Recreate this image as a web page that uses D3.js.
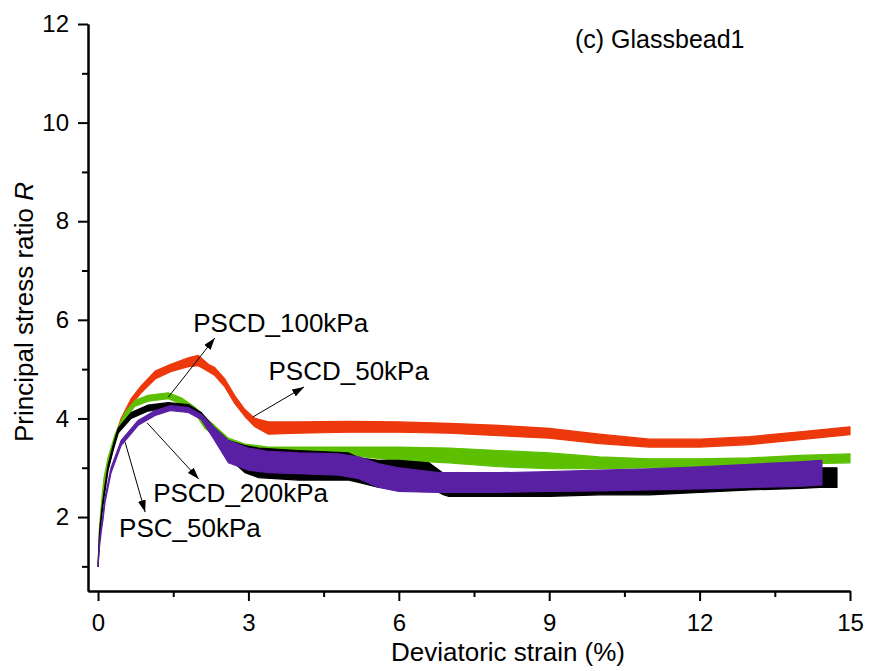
<!DOCTYPE html>
<html>
<head>
<meta charset="utf-8">
<script src="https://cdn.jsdelivr.net/npm/d3@7"></script>
<style>
  body { margin: 0; background: #fff; }
  svg { font-family: "Liberation Sans", Arial, sans-serif; }
  .axis path, .axis line { stroke: #000; stroke-width: 2; }
  .axis text { font-size: 24px; fill: #000; font-family: "Liberation Sans", Arial, sans-serif; }
</style>
</head>
<body>
<svg id="chart" width="869" height="671"></svg>
<script>
// strain (%) with lower / upper envelope of the noisy R trace
var psc100Strain = [0, 0.03, 0.07, 0.12, 0.2, 0.3, 0.46, 0.66, 0.86, 1.14, 1.45, 1.8, 2.0, 2.2, 2.33, 2.53, 2.73, 2.93, 3.13, 3.4, 4, 5, 6, 7, 8, 9, 10, 11, 12, 13, 14, 15];
var psc100Lo = [1.0, 1.55, 2.05, 2.55, 2.95, 3.4, 3.9, 4.27, 4.52, 4.8, 4.95, 5.05, 5.07, 4.95, 4.87, 4.64, 4.3, 4.04, 3.83, 3.68, 3.7, 3.72, 3.72, 3.7, 3.65, 3.6, 3.49, 3.42, 3.42, 3.47, 3.57, 3.67];
var psc100Hi = [1.0, 1.65, 2.15, 2.65, 3.05, 3.5, 4.0, 4.4, 4.66, 4.96, 5.1, 5.23, 5.28, 5.1, 5.03, 4.8, 4.46, 4.18, 4.0, 3.93, 3.93, 3.94, 3.93, 3.9, 3.86, 3.8, 3.68, 3.58, 3.58, 3.63, 3.73, 3.83];

var pscd50Strain = [0, 0.03, 0.07, 0.12, 0.2, 0.34, 0.54, 0.74, 1.0, 1.4, 1.66, 1.94, 2.13, 2.33, 2.6, 2.93, 3.4, 4, 5, 6, 7, 8, 9, 10, 11, 12, 13, 14, 15];
var pscd50Lo = [1.0, 1.7, 2.2, 2.7, 3.1, 3.55, 4.0, 4.25, 4.35, 4.4, 4.3, 4.1, 3.8, 3.65, 3.45, 3.35, 3.3, 3.28, 3.25, 3.15, 3.1, 3.02, 2.98, 2.98, 3.0, 3.02, 3.05, 3.08, 3.1];
var pscd50Hi = [1.0, 1.8, 2.3, 2.8, 3.2, 3.68, 4.12, 4.37, 4.47, 4.52, 4.42, 4.22, 4.02, 3.85, 3.6, 3.48, 3.42, 3.42, 3.42, 3.42, 3.4, 3.35, 3.3, 3.22, 3.18, 3.18, 3.2, 3.25, 3.28];

var pscd200Strain = [0, 0.03, 0.07, 0.12, 0.2, 0.3, 0.4, 0.66, 1.0, 1.4, 1.8, 2.06, 2.33, 2.6, 2.93, 3.2, 4, 5, 5.2, 5.6, 6.0, 6.6, 6.9, 7, 8, 9, 10, 11, 12, 13, 14, 14.4, 14.74];
var pscd200Lo = [1.0, 1.6, 2.0, 2.4, 2.95, 3.35, 3.7, 4.0, 4.15, 4.22, 4.18, 4.0, 3.6, 3.2, 2.9, 2.8, 2.75, 2.75, 2.7, 2.6, 2.6, 2.6, 2.45, 2.42, 2.42, 2.42, 2.45, 2.45, 2.5, 2.55, 2.58, 2.6, 2.6];
var pscd200Hi = [1.0, 1.7, 2.1, 2.5, 3.05, 3.45, 3.8, 4.12, 4.27, 4.32, 4.28, 4.12, 3.8, 3.55, 3.45, 3.4, 3.35, 3.3, 3.2, 3.15, 3.15, 3.1, 2.88, 2.85, 2.88, 2.9, 2.92, 2.95, 3.0, 3.05, 3.1, 3.0, 3.0];

var psc50Strain = [0, 0.03, 0.07, 0.1, 0.14, 0.26, 0.46, 0.8, 1.14, 1.45, 1.8, 2.06, 2.33, 2.6, 3.0, 3.4, 4, 4.8, 5.2, 5.6, 6, 6.8, 7, 8, 9, 10, 11, 12, 13, 14, 14.44];
var psc50Lo = [1.0, 1.4, 1.75, 1.95, 2.3, 2.9, 3.45, 3.86, 4.06, 4.16, 4.12, 3.98, 3.55, 3.1, 2.95, 2.9, 2.88, 2.85, 2.78, 2.6, 2.52, 2.5, 2.5, 2.5, 2.52, 2.53, 2.55, 2.57, 2.6, 2.62, 2.65];
var psc50Hi = [1.0, 1.5, 1.85, 2.05, 2.4, 3.0, 3.55, 3.96, 4.16, 4.26, 4.22, 4.08, 3.8, 3.55, 3.4, 3.33, 3.3, 3.28, 3.22, 3.08, 3.0, 2.9, 2.9, 2.9, 2.92, 2.95, 2.98, 3.02, 3.07, 3.12, 3.15];

var xMajor = [0, 3, 6, 9, 12, 15];
var xMinor = [1.5, 4.5, 7.5, 10.5, 13.5];
var yMajor = [2, 4, 6, 8, 10, 12];
var yMinor = [1, 3, 5, 7, 9, 11];

// label text, anchor point [strain, R], arrow tail and head [strain, R]
var labelNames = ["PSCD_100kPa", "PSCD_50kPa", "PSCD_200kPa", "PSC_50kPa"];
var labelPos = [[1.9, 5.75], [3.4, 4.77], [1.1, 2.3], [0.42, 1.6]];
var arrowFrom = [[1.40, 4.43], [3.09, 4.03], [0.98, 3.91], [0.54, 3.52]];
var arrowTo = [[2.33, 5.63], [4.11, 4.64], [2.01, 2.77], [0.94, 2.10]];

var svg = d3.select("#chart");

var x = d3.scaleLinear().domain([-0.2, 15]).range([88, 850]);
var y = d3.scaleLinear().domain([0.5, 12]).range([591, 24]);

var series = [
    { strain: psc100Strain, lo: psc100Lo, hi: psc100Hi, color: "#ec380b" },
    { strain: pscd50Strain, lo: pscd50Lo, hi: pscd50Hi, color: "#5cbf00" },
    { strain: pscd200Strain, lo: pscd200Lo, hi: pscd200Hi, color: "#000000" },
    { strain: psc50Strain, lo: psc50Lo, hi: psc50Hi, color: "#5a20a3" }
];

var area = d3.area()
    .x(function (d) { return x(d.s); })
    .y0(function (d) { return y(d.lo); })
    .y1(function (d) { return y(d.hi); });

series.forEach(function (s) {
    var pts = s.strain.map(function (v, i) { return { s: v, lo: s.lo[i], hi: s.hi[i] }; });
    svg.append("path")
        .datum(pts)
        .attr("d", area)
        .attr("fill", s.color)
        .attr("stroke", s.color)
        .attr("stroke-width", 1.2)
        .attr("stroke-linejoin", "round");
});

// axes
svg.append("g")
    .attr("class", "axis")
    .attr("transform", "translate(0," + y(0.5) + ")")
    .call(d3.axisBottom(x).tickValues(xMinor).tickSize(6).tickFormat("").tickSizeOuter(0));
svg.append("g")
    .attr("class", "axis")
    .attr("transform", "translate(0," + y(0.5) + ")")
    .call(d3.axisBottom(x).tickValues(xMajor).tickSize(10).tickPadding(13).tickSizeOuter(0));

svg.append("g")
    .attr("class", "axis")
    .attr("transform", "translate(" + x(-0.2) + ",0)")
    .call(d3.axisLeft(y).tickValues(yMinor).tickSize(6).tickFormat("").tickSizeOuter(0));
svg.append("g")
    .attr("class", "axis")
    .attr("transform", "translate(" + x(-0.2) + ",0)")
    .call(d3.axisLeft(y).tickValues(yMajor).tickSize(10).tickPadding(9).tickSizeOuter(0));

// axis titles
svg.append("text")
    .attr("x", 508)
    .attr("y", 661)
    .attr("text-anchor", "middle")
    .attr("font-size", 26)
    .text("Deviatoric strain (%)");

var yt = svg.append("text")
    .attr("transform", "translate(33,312) rotate(-90)")
    .attr("text-anchor", "middle")
    .attr("font-size", 26);
yt.append("tspan").text("Principal stress ratio ");
yt.append("tspan").attr("font-style", "italic").text("R");

svg.append("text")
    .attr("x", 575)
    .attr("y", 48)
    .attr("font-size", 25)
    .text("(c) Glassbead1");

// annotations
svg.append("defs").append("marker")
    .attr("id", "head")
    .attr("viewBox", "0 0 12 8")
    .attr("refX", 12)
    .attr("refY", 4)
    .attr("markerWidth", 12)
    .attr("markerHeight", 8)
    .attr("markerUnits", "userSpaceOnUse")
    .attr("orient", "auto")
    .append("path")
    .attr("d", "M0,0L12,4L0,8Z")
    .attr("fill", "#000");

labelNames.forEach(function (name, i) {
    svg.append("line")
        .attr("x1", x(arrowFrom[i][0]))
        .attr("y1", y(arrowFrom[i][1]))
        .attr("x2", x(arrowTo[i][0]))
        .attr("y2", y(arrowTo[i][1]))
        .attr("stroke", "#000")
        .attr("stroke-width", 1)
        .attr("marker-end", "url(#head)");
    svg.append("text")
        .attr("x", x(labelPos[i][0]))
        .attr("y", y(labelPos[i][1]))
        .attr("font-size", 26)
        .text(name);
});
</script>
</body>
</html>
